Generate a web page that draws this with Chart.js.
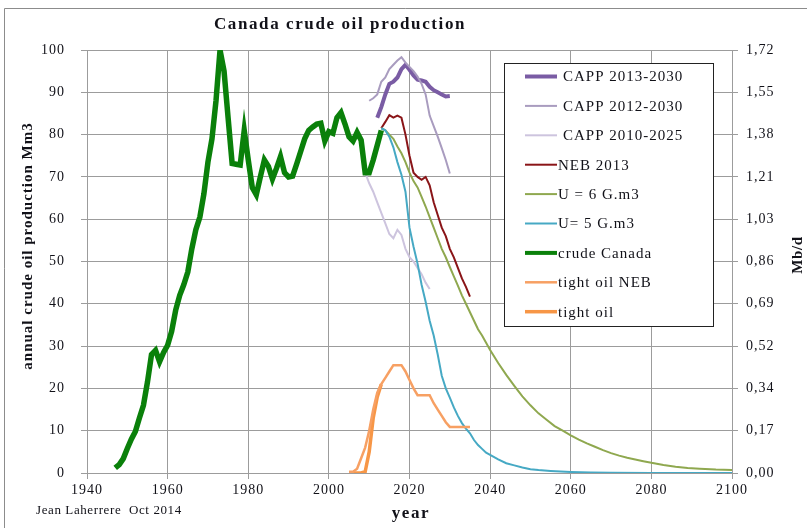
<!DOCTYPE html>
<html>
<head>
<meta charset="utf-8">
<script src="https://cdn.jsdelivr.net/npm/chart.js@4"></script>
<style>
  html, body { margin: 0; padding: 0; background: #fff; }
  #wrap { width: 807px; height: 528px; }
</style>
</head>
<body>
<div id="wrap"><canvas id="c" width="807" height="528"></canvas></div>
<script>
// Canada crude oil production, Mm3 per year, with forecasts
const crudeYears = [1947,1948,1949,1950,1951,1952,1953,1954,1955,1956,1957,1958,1959,1960,1961,1962,1963,1964,1965,1966,1967,1968,1969,1970,1971,1972,1973,1974,1975,1976,1977,1978,1979,1980,1981,1982,1983,1984,1985,1986,1987,1988,1989,1990,1991,1992,1993,1994,1995,1996,1997,1998,1999,2000,2001,2002,2003,2004,2005,2006,2007,2008,2009,2010,2011,2012,2013];
const crudeCanada = [1.2,2.0,3.4,5.8,8.0,9.8,13.0,16.0,21.5,28.0,29.0,26.3,28.5,30.2,33.5,38.5,42.0,44.5,47.5,53.0,57.5,60.5,66.0,73.5,79.0,88.0,100.0,95.0,84.0,73.2,73.0,72.8,81.0,74.0,67.5,65.8,70.0,74.0,72.5,69.5,72.0,74.8,71.0,70.0,70.2,73.0,76.0,79.0,81.0,81.8,82.5,82.7,78.5,80.7,80.3,84.0,85.2,82.5,79.5,78.5,80.5,78.7,71.0,71.0,74.0,77.5,81.0];

const capp2013Years = [2012,2013,2014,2015,2016,2017,2018,2019,2020,2021,2022,2023,2024,2025,2026,2027,2028,2029,2030];
const capp2013 = [84.0,86.5,89.5,92.0,92.5,93.5,95.5,96.5,95.3,94.0,93.0,92.8,92.5,91.3,90.5,90.0,89.5,89.0,89.1];

const capp2012Years = [2010,2011,2012,2013,2014,2015,2016,2017,2018,2019,2020,2021,2022,2023,2024,2025,2026,2027,2028,2029,2030];
const capp2012 = [88.0,88.6,89.5,92.5,93.5,95.5,96.5,97.5,98.3,97.0,96.0,95.0,93.7,92.0,89.5,84.5,82.0,79.5,76.8,74.0,70.8];

const capp2010Years = [2009,2010,2011,2012,2013,2014,2015,2016,2017,2018,2019,2020,2021,2022,2023,2024,2025];
const capp2010 = [71.0,68.5,66.5,64.0,61.5,59.0,56.5,55.5,57.5,56.3,53.0,51.0,50.0,48.5,47.0,45.0,43.5];

const neb2013Years = [2013,2014,2015,2016,2017,2018,2019,2020,2021,2022,2023,2024,2025,2026,2027,2028,2029,2030,2031,2032,2033,2034,2035];
const neb2013 = [81.5,83.0,84.6,84.0,84.5,84.0,80.0,75.0,71.0,70.0,69.3,70.0,68.0,64.0,61.0,58.0,56.0,53.0,51.0,48.5,46.0,44.0,41.7];

const u6Years = [2013,2014,2015,2016,2017,2018,2019,2020,2021,2022,2023,2024,2025,2026,2027,2028,2029,2030,2031,2032,2033,2034,2035,2036,2037,2038,2039,2040,2042,2044,2046,2048,2050,2052,2054,2056,2058,2060,2062,2064,2066,2068,2070,2072,2074,2076,2078,2080,2083,2086,2089,2092,2096,2100];
const u6 = [81.5,81.0,80.0,79.0,77.2,75.6,73.5,71.0,69.0,67.5,65.3,63.0,60.5,58.0,55.5,53.0,51.0,48.7,46.5,44.3,42.0,40.0,38.0,36.0,34.0,32.5,30.8,29.1,26.0,23.2,20.6,18.1,16.0,14.1,12.6,11.1,10.0,8.9,7.9,7.0,6.2,5.4,4.7,4.1,3.6,3.2,2.8,2.4,1.9,1.5,1.2,1.0,0.8,0.7];

const u5Years = [2013,2014,2015,2016,2017,2018,2019,2020,2021,2022,2023,2024,2025,2026,2027,2028,2029,2030,2031,2032,2033,2034,2035,2036,2037,2038,2039,2040,2042,2044,2046,2048,2050,2052,2055,2060,2065,2070,2080,2090,2100];
const u5 = [81.5,81.0,79.5,77.0,73.5,70.5,66.5,58.0,53.5,49.5,44.5,40.5,36.0,32.5,28.0,23.0,20.0,17.8,15.5,13.5,11.8,10.5,9.4,7.8,6.6,5.7,4.8,4.3,3.2,2.3,1.8,1.3,0.9,0.7,0.5,0.25,0.1,0.05,0.02,0.01,0.0];

const tightNebYears = [2005,2006,2007,2008,2009,2010,2011,2012,2013,2014,2015,2016,2017,2018,2019,2020,2021,2022,2023,2024,2025,2026,2027,2028,2029,2030,2031,2032,2033,2034,2035];
const tightNeb = [0.3,0.3,1.0,3.5,6.0,10.0,15.0,19.0,21.0,22.5,24.0,25.5,25.5,25.5,24.0,22.0,20.0,18.4,18.4,18.4,18.4,16.5,15.0,13.5,12.0,10.9,10.9,10.9,10.9,10.9,10.9];

const tightYears = [2005,2006,2007,2008,2009,2010,2011,2012,2013];
const tightOil = [0.0,0.0,0.0,0.0,0.3,5.0,13.0,18.0,21.0];

// right-hand axis: Mb/d equivalent of the left scale
const mm3PerYearToMbd = 6.2898 / 365;
const rightTickLabels = ['0,00','0,17','0,34','0,52','0,69','0,86','1,03','1,21','1,38','1,55','1,72'];

const serif = "'Liberation Serif', 'Times New Roman', serif";
const textColor = '#111118';
const gridColor = '#9c9c9c';

function pts(xs, ys) { return xs.map((x, i) => ({ x: x, y: ys[i] })); }

const series = [
  { label: 'CAPP 2013-2030', data: pts(capp2013Years, capp2013), color: '#7a5ca4', width: 4, gap: true },
  { label: 'CAPP 2012-2030', data: pts(capp2012Years, capp2012), color: '#a99cbf', width: 2, gap: true },
  { label: 'CAPP 2010-2025', data: pts(capp2010Years, capp2010), color: '#cdc4de', width: 2, gap: true },
  { label: 'NEB 2013', data: pts(neb2013Years, neb2013), color: '#8a1518', width: 2 },
  { label: 'U = 6 G.m3', data: pts(u6Years, u6), color: '#8fa84f', width: 2 },
  { label: 'U= 5 G.m3', data: pts(u5Years, u5), color: '#46a9c4', width: 2 },
  { label: 'crude Canada', data: pts(crudeYears, crudeCanada), color: '#0a800a', width: 5.5 },
  { label: 'tight oil NEB', data: pts(tightNebYears, tightNeb), color: '#f7a063', width: 2.5 },
  { label: 'tight oil', data: pts(tightYears, tightOil), color: '#f79646', width: 3.5 }
];

const datasets = series.map((s, i) => ({
  label: s.label,
  data: s.data,
  borderColor: s.color,
  backgroundColor: s.color,
  borderWidth: s.width,
  pointRadius: 0,
  tension: 0,
  fill: false,
  yAxisID: 'y',
  order: s.label === 'crude Canada' ? 2 : (s.label.startsWith('tight') ? 0 : 5 - i * 0.1)
}));

const decorations = {
  id: 'decorations',
  beforeDraw(chart) {
    const ctx = chart.ctx;
    ctx.save();
    ctx.fillStyle = '#fff';
    ctx.fillRect(0, 0, chart.width, chart.height);
    ctx.strokeStyle = '#8c8c8c';
    ctx.lineWidth = 1;
    ctx.beginPath();
    ctx.moveTo(4.5, chart.height);
    ctx.lineTo(4.5, 8.5);
    ctx.lineTo(chart.width, 8.5);
    ctx.stroke();
    ctx.restore();
    ctx.letterSpacing = '1px';
  },
  afterDraw(chart) {
    const ctx = chart.ctx;
    ctx.save();
    ctx.fillStyle = textColor;
    ctx.textBaseline = 'middle';

    // title
    ctx.letterSpacing = '1.6px';
    ctx.font = 'bold 17px ' + serif;
    ctx.textAlign = 'center';
    ctx.fillText('Canada crude oil production', 340, 25);

    // x axis title and credit
    ctx.font = 'bold 17px ' + serif;
    ctx.fillText('year', 411, 514);
    ctx.letterSpacing = '0.6px';
    ctx.font = '13px ' + serif;
    ctx.textAlign = 'left';
    ctx.fillText('Jean Laherrere  Oct 2014', 36, 511);

    // left axis title
    ctx.save();
    ctx.translate(28, 246);
    ctx.rotate(-Math.PI / 2);
    ctx.textAlign = 'center';
    ctx.letterSpacing = '1px';
    ctx.font = 'bold 15px ' + serif;
    ctx.fillText('annual crude oil production Mm3', 0, 0);
    ctx.restore();

    // right axis title
    ctx.save();
    ctx.translate(798, 255);
    ctx.rotate(-Math.PI / 2);
    ctx.textAlign = 'center';
    ctx.font = 'bold 15px ' + serif;
    ctx.fillText('Mb/d', 0, 0);
    ctx.restore();

    // legend box
    const bx = 504.5, by = 63.5, bw = 209, bh = 263;
    ctx.fillStyle = '#fff';
    ctx.fillRect(bx, by, bw, bh);
    ctx.strokeStyle = '#222';
    ctx.lineWidth = 1;
    ctx.strokeRect(bx, by, bw, bh);
    ctx.font = '15px ' + serif;
    ctx.textAlign = 'left';
    ctx.letterSpacing = '1px';
    series.forEach((s, i) => {
      const y = 76.5 + i * 29.4;
      ctx.strokeStyle = s.color;
      ctx.lineWidth = Math.min(s.width, 4);
      ctx.beginPath();
      ctx.moveTo(525, y);
      ctx.lineTo(557, y);
      ctx.stroke();
      ctx.fillStyle = textColor;
      ctx.fillText(s.label, s.gap ? 563 : 558, y + 1);
    });
    ctx.restore();
    ctx.letterSpacing = '0px';
  }
};

new Chart(document.getElementById('c'), {
  type: 'line',
  data: { datasets: datasets },
  options: {
    responsive: false,
    animation: false,
    devicePixelRatio: 1,
    layout: { padding: { top: 50, left: 0, right: 0, bottom: 0 } },
    plugins: { legend: { display: false }, title: { display: false }, tooltip: { enabled: false } },
    scales: {
      x: {
        type: 'linear', min: 1940, max: 2100,
        ticks: { stepSize: 20, callback: v => String(v), color: textColor, font: { family: serif, size: 14 }, padding: 3, maxRotation: 0 },
        grid: { color: gridColor, tickLength: 6, lineWidth: 1 },
        border: { color: gridColor },
        afterFit: s => { s.height = 55; }
      },
      y: {
        position: 'left', min: 0, max: 100,
        ticks: { stepSize: 10, color: textColor, font: { family: serif, size: 14 }, padding: 16 },
        grid: { color: gridColor, tickLength: 6, lineWidth: 1 },
        border: { color: gridColor },
        afterFit: s => { s.width = 87; }
      },
      y2: {
        position: 'right', min: 0, max: 100 * mm3PerYearToMbd,
        afterBuildTicks: s => { s.ticks = rightTickLabels.map((t, i) => ({ value: i * 10 * mm3PerYearToMbd })); },
        ticks: { callback: (v, i) => rightTickLabels[i], color: textColor, font: { family: serif, size: 14 }, padding: 8 },
        grid: { drawOnChartArea: false, color: gridColor, tickLength: 6 },
        border: { color: gridColor },
        afterFit: s => { s.width = 75; }
      }
    }
  },
  plugins: [decorations]
});
</script>
</body>
</html>
